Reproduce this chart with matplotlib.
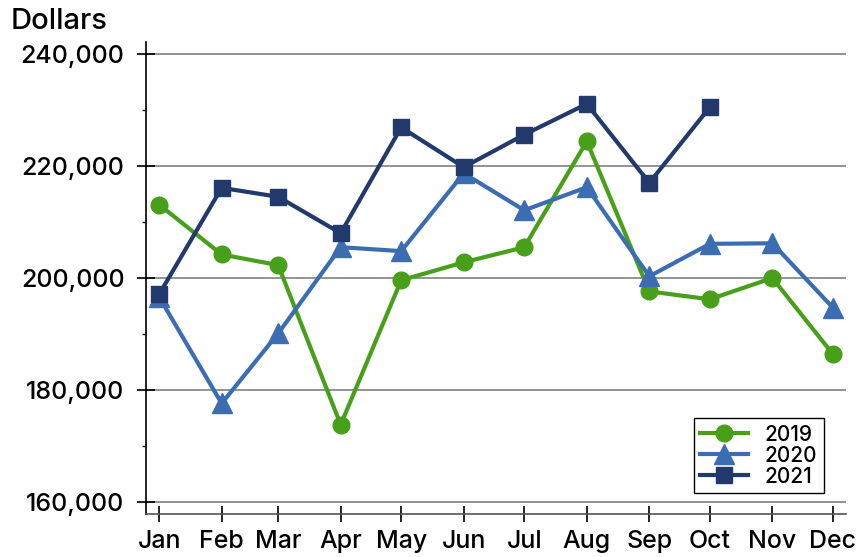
import datetime as dt

import matplotlib
matplotlib.use("Agg")
import matplotlib.pyplot as plt
from matplotlib.ticker import FuncFormatter, MultipleLocator

# ── Data (monthly dollars) ───────────────────────────────────────────────
months = ["Jan", "Feb", "Mar", "Apr", "May", "Jun",
          "Jul", "Aug", "Sep", "Oct", "Nov", "Dec"]
sales_2019 = [213100, 204200, 202300, 173800, 199600, 202800,
              205500, 224400, 197600, 196200, 200000, 186400]
sales_2020 = [196600, 177600, 190100, 205500, 204800, 218700,
              212100, 216200, 200300, 206100, 206200, 194700]
sales_2021 = [197100, 216100, 214500, 208000, 226900, 219800,
              225600, 231100, 217000, 230500]

# x positions follow the calendar (first of each month, day of year)
x = [(dt.date(2019, m, 1) - dt.date(2019, 1, 1)).days for m in range(1, 13)]

GREEN = "#48A01A"
BLUE = "#3C6DB2"
NAVY = "#22396B"

plt.rcParams.update({
    "font.family": ["Inter", "DejaVu Sans"],
    "font.size": 18,
    "font.weight": "medium",
})

fig = plt.figure(figsize=(8.58, 5.57), dpi=100)
ax = fig.add_axes([0.1702, 0.0772, 0.8158, 0.8474])

line_kw = dict(linewidth=3.0, markersize=12)
ax.plot(x, sales_2019, color=GREEN, marker="o", label="2019", **line_kw, zorder=3)
ax.plot(x, sales_2020, color=BLUE, marker="^", label="2020",
        linewidth=3.0, markersize=14, zorder=3)
ax.plot(x[:len(sales_2021)], sales_2021, color=NAVY, marker="s",
        label="2021", **line_kw, zorder=4)

ax.set_xlim(-6.5, 340.5)
ax.set_ylim(157850, 242150)

ax.set_xticks(x)
ax.set_xticklabels(months)
ax.yaxis.set_major_locator(MultipleLocator(20000))
ax.yaxis.set_minor_locator(MultipleLocator(10000))
ax.yaxis.set_major_formatter(FuncFormatter(lambda v, p: f"{int(v):,}"))

ax.grid(axis="y", which="major", color="#8a8a8a", linewidth=1.3, zorder=0)
for side in ("top", "right"):
    ax.spines[side].set_visible(False)
ax.spines["left"].set_linewidth(1.2)
ax.spines["bottom"].set_linewidth(1.2)
ax.spines["bottom"].set_color("#555555")

ax.tick_params(axis="y", which="major", direction="inout", length=13,
               width=1.2, pad=9)
ax.tick_params(axis="y", which="minor", direction="out", length=3, width=1.0)
ax.tick_params(axis="x", which="major", direction="inout", length=11.5,
               width=1.2, pad=6)

fig.text(0.012, 0.948, "Dollars", fontsize=21, va="baseline", ha="left")

leg = ax.legend(loc="lower right", bbox_to_anchor=(0.960, 0.115),
                bbox_transform=fig.transFigure, fontsize=15,
                fancybox=False, framealpha=1, edgecolor="black",
                handlelength=2.3, labelspacing=0.05, borderpad=0.3,
                handletextpad=0.8, borderaxespad=0)
leg.get_frame().set_linewidth(1.0)

fig.savefig("out.png", dpi=100)
